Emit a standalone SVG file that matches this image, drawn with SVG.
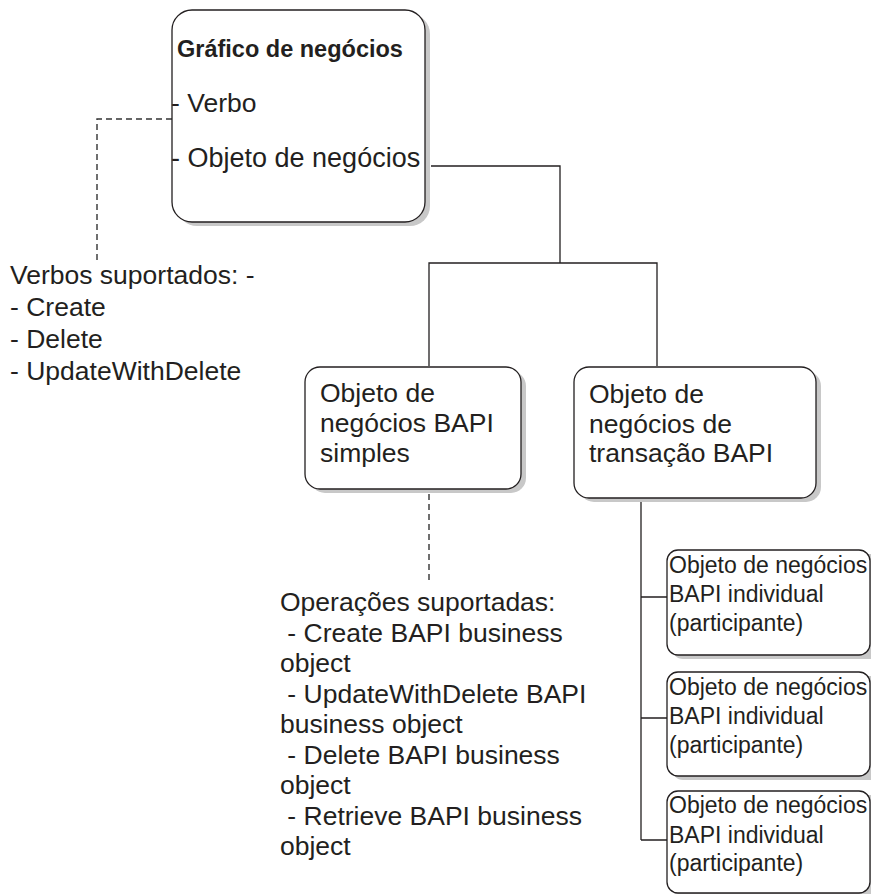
<svg xmlns="http://www.w3.org/2000/svg" width="871" height="894" viewBox="0 0 871 894">
<style>
text{font-family:"Liberation Sans",Arial,sans-serif;fill:#231f20}
.t{font-size:26.5px}
.s{font-size:23px}
.b{font-size:23.5px;font-weight:bold}
.box{fill:#fff;stroke:#231f20;stroke-width:1.3}
.sh{fill:#c8c8c8}
.ln{fill:none;stroke:#231f20;stroke-width:1.3}
.dl{fill:none;stroke:#333;stroke-width:1.4;stroke-dasharray:6 4}
</style>
<rect width="871" height="894" fill="#fff"/>
<g id="connectors">
<path class="ln" d="M431 166H560V263"/>
<path class="ln" d="M429 366V263H657V366"/>
<path class="ln" d="M641 502V840"/>
<path class="ln" d="M641 597H667M641 718H667M641 840H667"/>
<path class="dl" d="M172 119H97V260"/>
<path class="dl" d="M429 494V580"/>
</g>
<g id="grafico">
<rect class="sh" x="177" y="14" width="253" height="212" rx="20"/>
<rect class="box" x="172" y="10" width="253" height="212" rx="20"/>
<text class="b" x="177" y="57">Gráfico de negócios</text>
<text class="t" x="171" y="112">- Verbo</text>
<text class="t" x="171" y="167" style="font-size:27px">- Objeto de negócios</text>
</g>
<g id="verbos">
<text class="t" x="10" y="284">Verbos suportados: -</text>
<text class="t" x="10" y="316">- Create</text>
<text class="t" x="10" y="348">- Delete</text>
<text class="t" x="10" y="380">- UpdateWithDelete</text>
</g>
<g id="simples">
<rect class="sh" x="310" y="371" width="216" height="122" rx="15"/>
<rect class="box" x="305" y="367" width="216" height="122" rx="15"/>
<text class="t" x="320" y="402">Objeto de</text>
<text class="t" x="320" y="432">negócios BAPI</text>
<text class="t" x="320" y="462">simples</text>
</g>
<g id="transacao">
<rect class="sh" x="579" y="371" width="242" height="131" rx="15"/>
<rect class="box" x="574" y="367" width="242" height="131" rx="15"/>
<text class="t" x="589" y="403">Objeto de</text>
<text class="t" x="589" y="433">negócios de</text>
<text class="t" x="589" y="462">transação BAPI</text>
</g>
<g id="operacoes">
<text class="t" x="280" y="611">Operações suportadas:</text>
<text class="t" x="280" y="642" xml:space="preserve"> - Create BAPI business</text>
<text class="t" x="280" y="672">object</text>
<text class="t" x="280" y="703" xml:space="preserve"> - UpdateWithDelete BAPI</text>
<text class="t" x="280" y="733">business object</text>
<text class="t" x="280" y="764" xml:space="preserve"> - Delete BAPI business</text>
<text class="t" x="280" y="794">object</text>
<text class="t" x="280" y="825" xml:space="preserve"> - Retrieve BAPI business</text>
<text class="t" x="280" y="855">object</text>
</g>
<g id="individual1">
<rect class="sh" x="672" y="554" width="210" height="105" rx="11"/>
<rect class="box" x="667" y="550" width="203" height="105" rx="11"/>
<text class="s" x="669" y="573">Objeto de negócios</text>
<text class="s" x="669" y="602">BAPI individual</text>
<text class="s" x="669" y="631">(participante)</text>
</g>
<g id="individual2">
<rect class="sh" x="672" y="676" width="210" height="104" rx="11"/>
<rect class="box" x="667" y="672" width="203" height="104" rx="11"/>
<text class="s" x="669" y="695">Objeto de negócios</text>
<text class="s" x="669" y="724">BAPI individual</text>
<text class="s" x="669" y="753">(participante)</text>
</g>
<g id="individual3">
<rect class="sh" x="672" y="795" width="210" height="103" rx="11"/>
<rect class="box" x="667" y="791" width="203" height="102" rx="11"/>
<text class="s" x="669" y="813">Objeto de negócios</text>
<text class="s" x="669" y="843">BAPI individual</text>
<text class="s" x="669" y="871">(participante)</text>
</g>
</svg>
